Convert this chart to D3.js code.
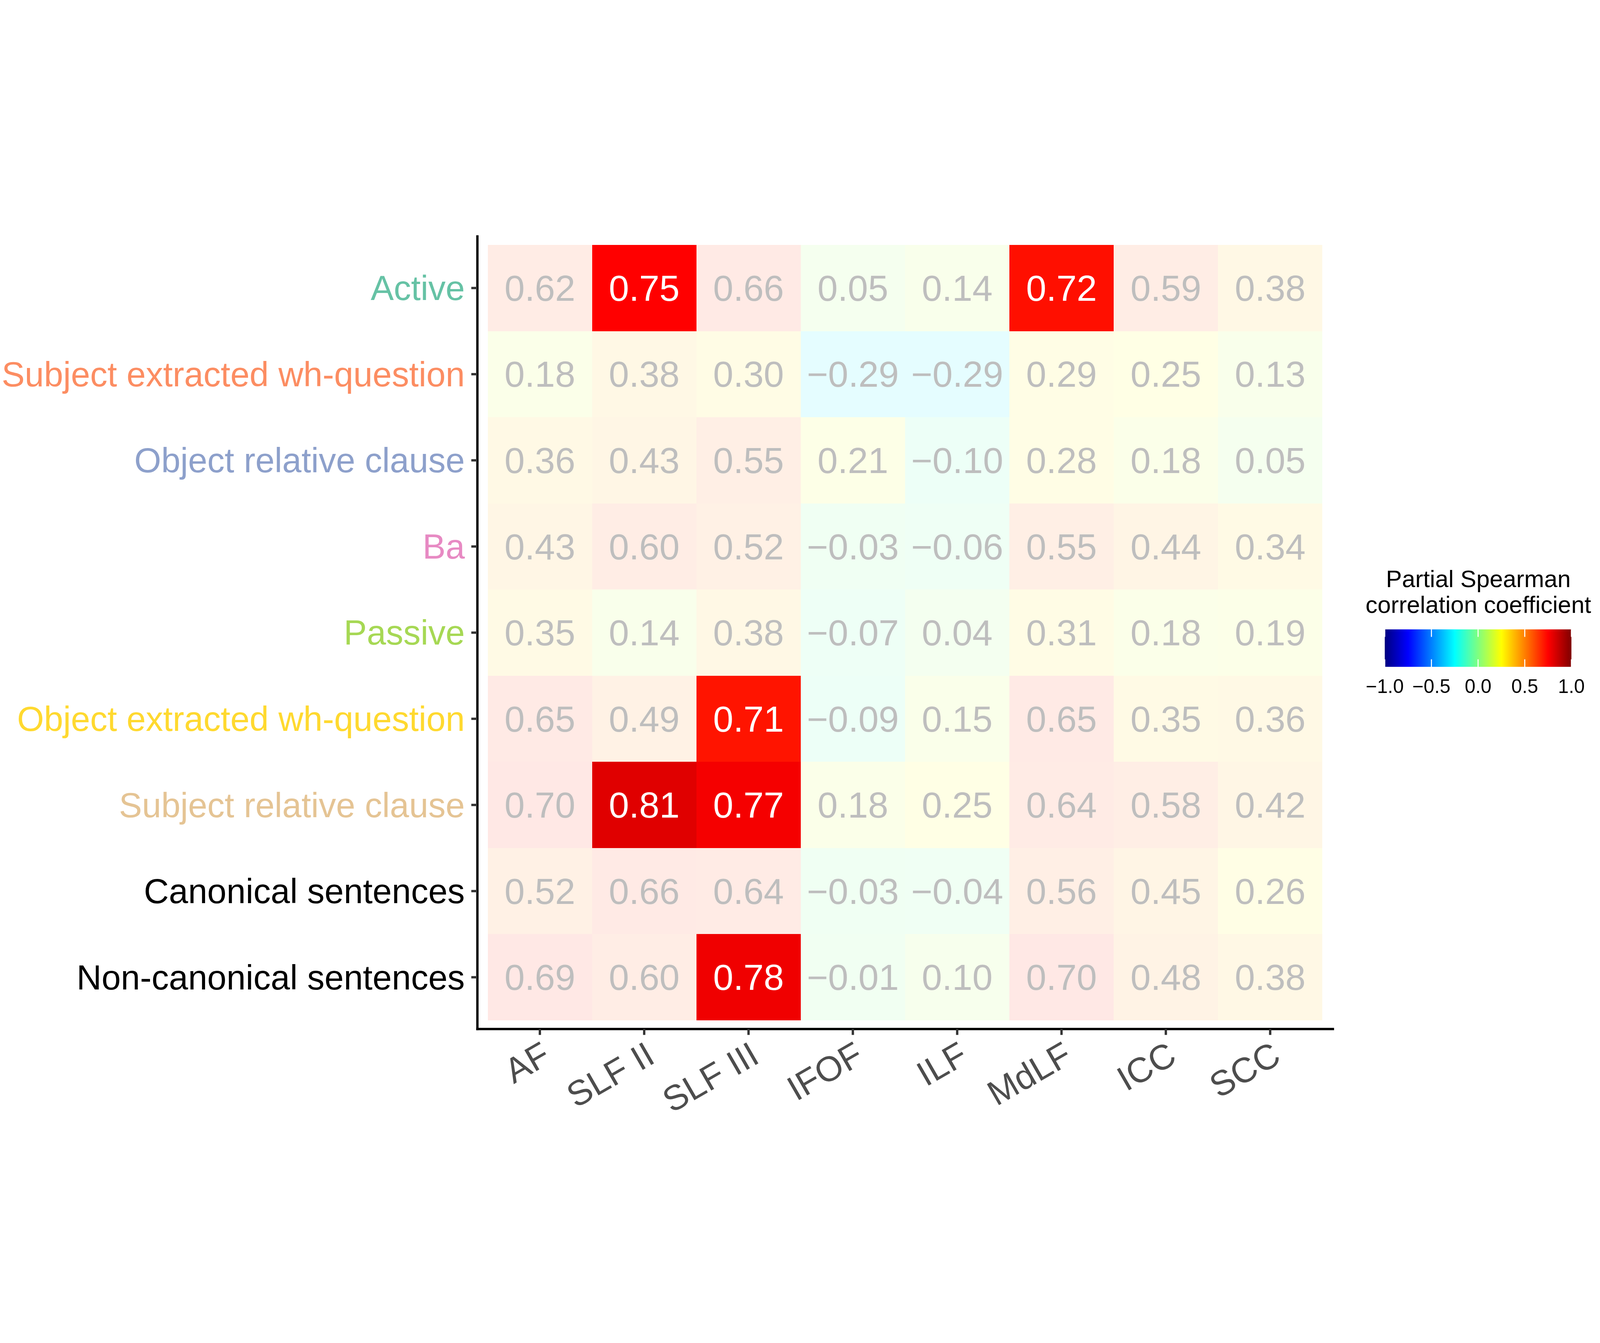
<!DOCTYPE html>
<html>
<head>
<meta charset="utf-8">
<script src="https://cdn.jsdelivr.net/npm/d3@7"></script>
<style>
html, body { margin: 0; padding: 0; background: #fff; overflow: hidden; }
svg { display: block; width: 100vw; height: 100vh; }
text { font-family: "Liberation Sans", Arial, Helvetica, sans-serif; }
</style>
</head>
<body>
<div id="chart"></div>
<script>
// tracts on the x axis, sentence types on the y axis
const tracts = ["AF", "SLF II", "SLF III", "IFOF", "ILF", "MdLF", "ICC", "SCC"];
const conditions = [
    "Active",
    "Subject extracted wh-question",
    "Object relative clause",
    "Ba",
    "Passive",
    "Object extracted wh-question",
    "Subject relative clause",
    "Canonical sentences",
    "Non-canonical sentences"
];
const conditionColors = ["#66C2A5", "#FC8D62", "#8DA0CB", "#E78AC3", "#A6D854", "#FFD92F", "#E5C494", "#000000", "#000000"];

// one row per condition, one value per tract
const values = [
    [0.62, 0.75, 0.66, 0.05, 0.14, 0.72, 0.59, 0.38],
    [0.18, 0.38, 0.30, -0.29, -0.29, 0.29, 0.25, 0.13],
    [0.36, 0.43, 0.55, 0.21, -0.10, 0.28, 0.18, 0.05],
    [0.43, 0.60, 0.52, -0.03, -0.06, 0.55, 0.44, 0.34],
    [0.35, 0.14, 0.38, -0.07, 0.04, 0.31, 0.18, 0.19],
    [0.65, 0.49, 0.71, -0.09, 0.15, 0.65, 0.35, 0.36],
    [0.70, 0.81, 0.77, 0.18, 0.25, 0.64, 0.58, 0.42],
    [0.52, 0.66, 0.64, -0.03, -0.04, 0.56, 0.45, 0.26],
    [0.69, 0.60, 0.78, -0.01, 0.10, 0.70, 0.48, 0.38]
];

// cells drawn at full colour
const significant = [
    ["Active", "SLF II"],
    ["Active", "MdLF"],
    ["Object extracted wh-question", "SLF III"],
    ["Subject relative clause", "SLF II"],
    ["Subject relative clause", "SLF III"],
    ["Non-canonical sentences", "SLF III"]
];

const legendTicks = [-1, -0.5, 0, 0.5, 1];
const jetStops = [-1, -0.75, -0.5, -0.25, 0, 0.25, 0.5, 0.75, 1];
const jetColors = ["#00007F", "#0000FF", "#007FFF", "#00FFFF", "#7FFF7F", "#FFFF00", "#FF7F00", "#FF0000", "#7F0000"];

const width = 6155, height = 3438;
const fontFamily = '"Liberation Sans", Arial, Helvetica, sans-serif';

const svg = d3.select("#chart")
    .append("svg")
    .attr("viewBox", `0 0 ${width} ${height}`)
    .attr("preserveAspectRatio", "xMidYMid meet");

const x = d3.scaleBand().domain(tracts).range([1836, 5127]).paddingInner(0).paddingOuter(0.1);
const y = d3.scaleBand().domain(conditions).range([45, 3094]).paddingInner(0).paddingOuter(0.1);
const color = d3.scaleLinear().domain(jetStops).range(jetColors).interpolate(d3.interpolateRgb);
const fmt = d3.format(".2f");

const cells = conditions.flatMap((c, i) => tracts.map((t, j) => ({
    cond: c,
    tract: t,
    value: values[i][j],
    sig: significant.some(s => s[0] === c && s[1] === t)
})));

svg.append("g")
    .selectAll("rect")
    .data(cells)
    .join("rect")
    .attr("x", d => x(d.tract))
    .attr("y", d => y(d.cond))
    .attr("width", x.bandwidth())
    .attr("height", y.bandwidth())
    .attr("shape-rendering", "crispEdges")
    .attr("fill", d => color(d.value))
    .attr("fill-opacity", d => d.sig ? 1 : 0.1);

svg.append("g")
    .selectAll("text")
    .data(cells)
    .join("text")
    .attr("x", d => x(d.tract) + x.bandwidth() / 2)
    .attr("y", d => y(d.cond) + y.bandwidth() / 2)
    .attr("dy", "0.35em")
    .attr("text-anchor", "middle")
    .attr("font-size", 140)
    .attr("fill", d => d.sig ? "#FFFFFF" : "#BEBEBE")
    .text(d => fmt(d.value));

// axes
const yAxis = svg.append("g")
    .attr("transform", "translate(1836,0)")
    .call(d3.axisLeft(y).tickSize(23).tickSizeOuter(0).tickPadding(25))
    .attr("font-family", fontFamily);
yAxis.select(".domain").attr("stroke", "#000").attr("stroke-width", 9).attr("stroke-linecap", "square");
yAxis.selectAll(".tick line").attr("stroke", "#333333").attr("stroke-width", 9);
yAxis.selectAll(".tick text")
    .attr("font-size", 133)
    .attr("dy", "0.35em")
    .attr("fill", (d, i) => conditionColors[i]);

const xAxis = svg.append("g")
    .attr("transform", "translate(0,3094)")
    .call(d3.axisBottom(x).tickSize(23).tickSizeOuter(0))
    .attr("font-family", fontFamily);
xAxis.select(".domain").attr("stroke", "#000").attr("stroke-width", 9).attr("stroke-linecap", "square");
xAxis.selectAll(".tick line").attr("stroke", "#333333").attr("stroke-width", 9);
xAxis.selectAll(".tick text")
    .attr("x", 0)
    .attr("y", 0)
    .attr("dy", "0.72em")
    .attr("text-anchor", "end")
    .attr("transform", "translate(0,42) rotate(-30)")
    .attr("font-size", 135)
    .attr("fill", "#4D4D4D");

// legend
const lx = d3.scaleLinear().domain([-1, 1]).range([5327, 6045]);
const barTop = 1557, barBottom = 1701;

const grad = svg.append("defs").append("linearGradient")
    .attr("id", "jet")
    .attr("x1", "0%").attr("x2", "100%").attr("y1", "0%").attr("y2", "0%");
grad.selectAll("stop")
    .data(jetStops)
    .join("stop")
    .attr("offset", d => ((d + 1) / 2 * 100) + "%")
    .attr("stop-color", (d, i) => jetColors[i]);

const legend = svg.append("g");
legend.selectAll("text.title")
    .data(["Partial Spearman", "correlation coefficient"])
    .join("text")
    .attr("class", "title")
    .attr("x", 5687)
    .attr("y", (d, i) => 1395 + i * 99)
    .attr("text-anchor", "middle")
    .attr("font-size", 92)
    .attr("fill", "#000")
    .text(d => d);

legend.append("rect")
    .attr("x", lx(-1))
    .attr("y", barTop)
    .attr("width", lx(1) - lx(-1))
    .attr("height", barBottom - barTop)
    .attr("fill", "url(#jet)");

const tickLen = (barBottom - barTop) / 5;
legend.selectAll("line.top")
    .data(legendTicks)
    .join("line")
    .attr("class", "top")
    .attr("x1", d => lx(d)).attr("x2", d => lx(d))
    .attr("y1", barTop).attr("y2", barTop + tickLen)
    .attr("stroke", "#fff").attr("stroke-width", 4);
legend.selectAll("line.bottom")
    .data(legendTicks)
    .join("line")
    .attr("class", "bottom")
    .attr("x1", d => lx(d)).attr("x2", d => lx(d))
    .attr("y1", barBottom - tickLen).attr("y2", barBottom)
    .attr("stroke", "#fff").attr("stroke-width", 4);

legend.selectAll("text.tick")
    .data(legendTicks)
    .join("text")
    .attr("class", "tick")
    .attr("x", d => lx(d))
    .attr("y", 1801)
    .attr("text-anchor", "middle")
    .attr("font-size", 74)
    .attr("fill", "#000")
    .text(d => d3.format(".1f")(d));
</script>
</body>
</html>
